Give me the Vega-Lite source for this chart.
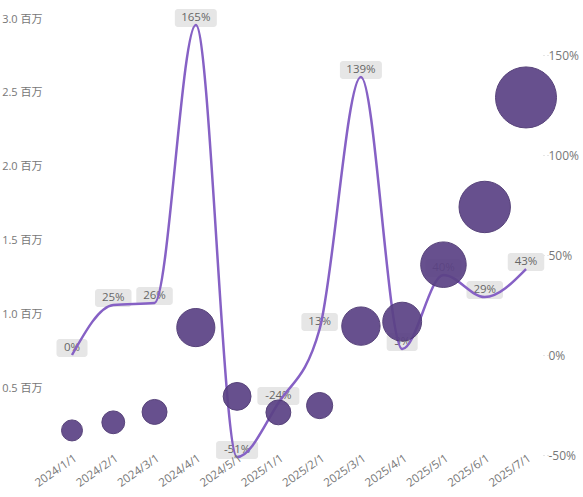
{
  "$schema": "https://vega.github.io/schema/vega-lite/v6.json",
  "width": 493,
  "height": 436,
  "autosize": {"type": "none"},
  "padding": {"left": 50, "top": 19, "right": 40, "bottom": 42},
  "data": {
    "values": [
      {"date": "2024/1/1", "value": 220000, "pct": 0},
      {"date": "2024/2/1", "value": 275000, "pct": 0.25},
      {"date": "2024/3/1", "value": 345000, "pct": 0.26},
      {"date": "2024/4/1", "value": 915000, "pct": 1.65},
      {"date": "2024/5/1", "value": 450000, "pct": -0.51},
      {"date": "2025/1/1", "value": 342000, "pct": -0.24},
      {"date": "2025/2/1", "value": 388000, "pct": 0.13},
      {"date": "2025/3/1", "value": 925000, "pct": 1.39},
      {"date": "2025/4/1", "value": 955000, "pct": 0.03},
      {"date": "2025/5/1", "value": 1340000, "pct": 0.40},
      {"date": "2025/6/1", "value": 1730000, "pct": 0.29},
      {"date": "2025/7/1", "value": 2470000, "pct": 0.43}
    ]
  },
  "config": {
    "view": {"stroke": null},
    "font": "Open Sans, Noto Sans CJK SC",
    "axis": {"labelColor": "#777777", "labelFontSize": 11, "labelFont": "Open Sans, Noto Sans CJK SC"}
  },
  "encoding": {
    "x": {
      "field": "date",
      "type": "ordinal",
      "sort": null,
      "scale": {"type": "point", "range": [22, 476], "padding": 0},
      "axis": {"title": null, "domain": false, "ticks": false, "grid": false, "labelAngle": -35, "labelPadding": -3, "labelFontSize": 11.5}
    }
  },
  "layer": [
    {
      "encoding": {
        "y": {
          "field": "pct",
          "type": "quantitative",
          "scale": {"domain": [-0.5, 1.68], "nice": false, "zero": false},
          "axis": {
            "orient": "right",
            "title": null,
            "domain": false,
            "grid": false,
            "values": [-0.5, 0, 0.5, 1, 1.5],
            "labelExpr": "replace(format(datum.value, '.0%'), '−', '-')",
            "labelFontSize": 12,
            "tickColor": "#cccccc",
            "tickDash": [1, 3],
            "tickSize": 5,
            "labelPadding": 0
          }
        }
      },
      "layer": [
        {
          "mark": {
            "type": "rect",
            "color": "#E6E6E6",
            "cornerRadius": 3,
            "height": 18,
            "width": {"expr": "20 + 5.5 * length(format(datum.pct, '.0%'))"},
            "yOffset": -7
          }
        },
        {
          "mark": {
            "type": "text",
            "color": "#666666",
            "fontSize": 11.5,
            "baseline": "middle",
            "dy": -7,
            "text": {"expr": "replace(format(datum.pct, '.0%'), '−', '-')"}
          }
        },
        {
          "mark": {"type": "line", "color": "#8661C5", "strokeWidth": 2.5, "interpolate": "monotone"}
        }
      ]
    },
    {
      "mark": {"type": "circle", "color": "#5B4285", "opacity": 0.92, "stroke": "#4A3470", "strokeWidth": 1},
      "encoding": {
        "y": {
          "field": "value",
          "type": "quantitative",
          "scale": {"domain": [54000, 3000000], "nice": false, "zero": false},
          "axis": {
            "orient": "left",
            "title": null,
            "domain": false,
            "ticks": false,
            "values": [500000, 1000000, 1500000, 2000000, 2500000, 3000000],
            "labelExpr": "format(datum.value / 1000000, '.1f') + ' 百万'",
            "gridColor": "#cccccc",
            "gridDash": [1, 5],
            "labelPadding": 8
          }
        },
        "size": {
          "field": "value",
          "type": "quantitative",
          "legend": null,
          "scale": {"domain": [220000, 2470000], "range": [441, 3721], "zero": false}
        }
      }
    }
  ],
  "resolve": {"scale": {"y": "independent"}}
}
